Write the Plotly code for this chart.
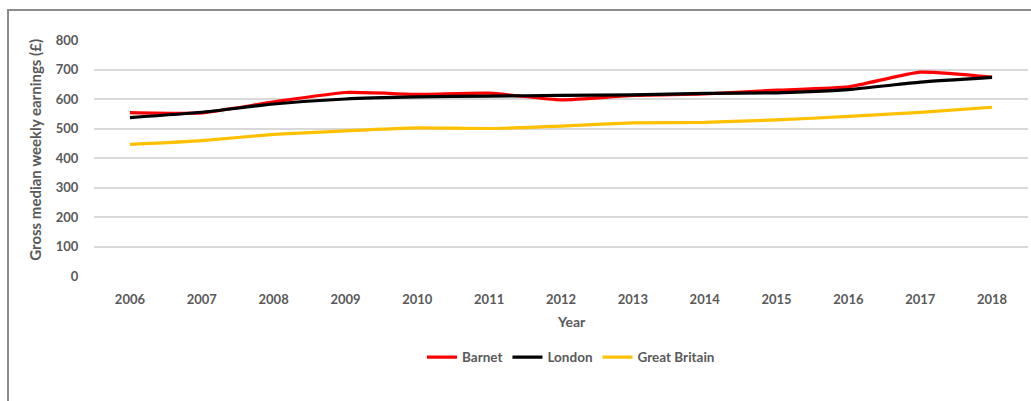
import plotly.graph_objects as go

years = ["2006", "2007", "2008", "2009", "2010", "2011", "2012",
         "2013", "2014", "2015", "2016", "2017", "2018"]
barnet = [554, 553, 590, 622, 616, 620, 597, 612, 617, 630, 641, 691, 674]
london = [537, 555, 583, 600, 607, 610, 612, 614, 619, 621, 632, 657, 673]
great_britain = [446, 459, 480, 492, 502, 500, 508, 519, 521, 529, 541, 555, 572]
y_ticks = [0, 100, 200, 300, 400, 500, 600, 700, 800]

series = [("Barnet", barnet, "#FF0000"),
          ("London", london, "#000000"),
          ("Great Britain", great_britain, "#FFC000")]

FONT = "Lato, 'Open Sans', sans-serif"
GREY = "#595959"

fig = go.Figure()
for name, vals, col in series:
    fig.add_trace(go.Scatter(
        x=years, y=vals, name=name, mode="lines",
        line=dict(color=col, width=3.2, shape="spline", smoothing=0.5),
    ))

# plot area spans x 94..1028 px, y 40..276.5 px
PL, PR, PT, PB = 94, 1028, 40, 276.5
W, H = PR - PL, PB - PT

def px(x):
    return (x - PL) / W

def py(y):
    return (PB - y) / H

fig.update_layout(
    width=1031, height=401,
    margin=dict(l=PL, r=1031 - PR, t=PT, b=401 - PB),
    paper_bgcolor="white", plot_bgcolor="white",
    font=dict(family=FONT, color=GREY, size=13),
    showlegend=True,
    legend=dict(orientation="h", x=px(571), xanchor="center",
                y=py(358), yanchor="middle", itemwidth=30,
                font=dict(family=FONT, size=13.5, color=GREY, weight="bold"),
                tracegroupgap=0),
    xaxis=dict(type="category", range=[-0.5, 12.5], showgrid=False,
               zeroline=False, showline=False,
               ticks="outside", ticklen=11, tickcolor="rgba(0,0,0,0)",
               tickfont=dict(family=FONT, size=13, color=GREY, weight="bold")),
    yaxis=dict(range=[0, 800], tickvals=y_ticks, showgrid=True,
               gridcolor="#D9D9D9", gridwidth=1.5, zeroline=False,
               showline=False, ticks="outside", ticklen=12,
               tickcolor="rgba(0,0,0,0)",
               tickfont=dict(family=FONT, size=13, color=GREY, weight="bold")),
    annotations=[
        dict(text="Gross median weekly earnings (£)", xref="paper", yref="paper",
             x=px(35), y=py(150), textangle=-90, showarrow=False,
             xanchor="center", yanchor="middle",
             font=dict(family=FONT, size=15, color=GREY, weight="bold")),
        dict(text="Year", xref="paper", yref="paper",
             x=px(571), y=py(322), showarrow=False,
             xanchor="center", yanchor="middle",
             font=dict(family=FONT, size=14, color=GREY, weight="bold")),
    ],
    shapes=[
        dict(type="rect", xref="paper", yref="paper",
             x0=px(8), x1=px(1040), y0=py(410), y1=py(10),
             line=dict(color="#8C8C8C", width=2), layer="below"),
    ],
)

fig.write_html("out.html")
